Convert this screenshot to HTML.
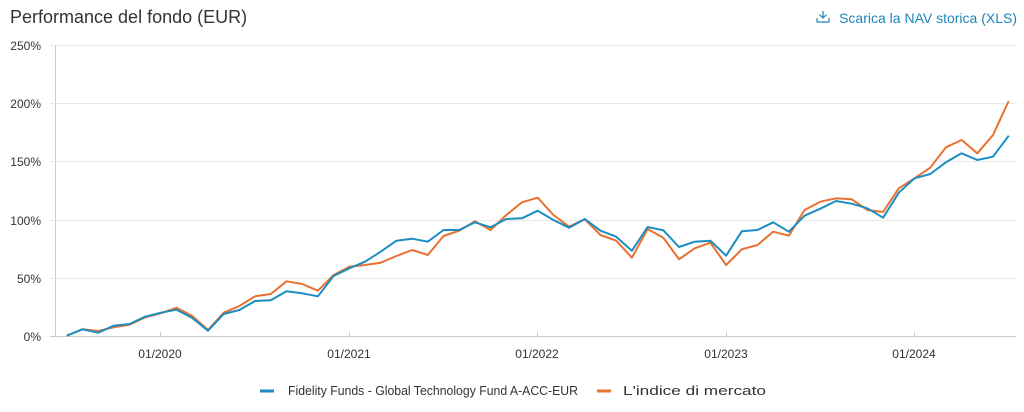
<!DOCTYPE html>
<html><head><meta charset="utf-8"><style>
html,body{margin:0;padding:0;background:#fff;width:1024px;height:412px;overflow:hidden;font-family:"Liberation Sans",sans-serif}
</style></head><body>
<svg width="1024" height="412" viewBox="0 0 1024 412" xmlns="http://www.w3.org/2000/svg" font-family="Liberation Sans, sans-serif">
<text x="10" y="23" font-size="18" fill="#333">Performance del fondo (EUR)</text>
<g stroke="#1f86b8" stroke-width="1.2" fill="none"><path d="M823 11v7M819.5 14.5l3.5 3.5 3.5-3.5M817 18v4h12v-4"/></g>
<text x="1017" y="23" font-size="14" fill="#1f86b8" text-anchor="end">Scarica la NAV storica (XLS)</text>
<g stroke="#e8e8e8" stroke-width="1">
<line x1="50" y1="45.5" x2="1016" y2="45.5"/>
<line x1="50" y1="103.5" x2="1016" y2="103.5"/>
<line x1="50" y1="161.5" x2="1016" y2="161.5"/>
<line x1="50" y1="220.5" x2="1016" y2="220.5"/>
<line x1="50" y1="278.5" x2="1016" y2="278.5"/>
</g>
<line x1="50" y1="336.5" x2="1016" y2="336.5" stroke="#ccc"/>
<line x1="55.5" y1="45" x2="55.5" y2="337" stroke="#ccc"/>
<g stroke="#ccc"><line x1="160.5" y1="337" x2="160.5" y2="332"/><line x1="349.5" y1="337" x2="349.5" y2="332"/><line x1="537.5" y1="337" x2="537.5" y2="332"/><line x1="726.5" y1="337" x2="726.5" y2="332"/><line x1="914.5" y1="337" x2="914.5" y2="332"/></g>
<g font-size="12" fill="#333" text-anchor="end">
<text x="41" y="50">250%</text><text x="41" y="108">200%</text><text x="41" y="166">150%</text><text x="41" y="225">100%</text><text x="41" y="283">50%</text><text x="41" y="341">0%</text>
</g>
<g font-size="12" fill="#333" text-anchor="middle">
<text x="160" y="358">01/2020</text><text x="349" y="358">01/2021</text><text x="537" y="358">01/2022</text><text x="726" y="358">01/2023</text><text x="914" y="358">01/2024</text>
</g>
<polyline fill="none" stroke="#e8712f" stroke-width="2" stroke-linejoin="round" points="66.7,335.7 82.4,329.3 98.1,331 113.8,327.3 129.5,324.7 145.2,317.3 160.9,313.3 176.6,307.7 192.3,316 208,330 223.7,312.7 239.4,306 255.1,296.3 270.8,294 286.5,281.3 302.2,284 317.9,290.7 333.6,275 349.3,266.7 365,265 380.7,262.7 396.4,256 412.1,250 427.8,255 443.5,236 459.2,230.7 474.9,221.3 490.6,230 506.3,215 522,202.3 537.7,197.7 553.4,215 569.1,226.7 584.8,219.3 600.5,235 616.2,240.7 631.9,257.7 647.6,229 663.3,237.7 679,259.3 694.7,248.3 710.4,242.7 726.1,265 741.8,249.3 757.5,245 773.2,231.7 788.9,235.7 804.6,210 820.3,201.7 836,198.3 851.7,199.3 867.4,210 883.1,212 898.8,188.3 914.5,178.3 930.2,167.7 945.9,147.3 961.6,140 977.3,153.3 993,135 1008.7,101"/>
<polyline fill="none" stroke="#1b8dc0" stroke-width="2" stroke-linejoin="round" points="66.7,335.7 82.4,329.3 98.1,332.7 113.8,325.7 129.5,324 145.2,316.7 160.9,312.7 176.6,309.7 192.3,318 208,330.7 223.7,314 239.4,310 255.1,301 270.8,300.3 286.5,291.3 302.2,293.3 317.9,296.3 333.6,276 349.3,268.3 365,261.7 380.7,251.7 396.4,240.7 412.1,238.7 427.8,241.7 443.5,230 459.2,230 474.9,222.3 490.6,227.3 506.3,219 522,218.3 537.7,210.7 553.4,220 569.1,227.7 584.8,219 600.5,230.7 616.2,236.7 631.9,250.7 647.6,227 663.3,230.3 679,247 694.7,241.7 710.4,240.7 726.1,255.7 741.8,231.3 757.5,230 773.2,222.3 788.9,231.7 804.6,215.7 820.3,208.7 836,201 851.7,203.7 867.4,208.3 883.1,217.7 898.8,192.7 914.5,178.3 930.2,174 945.9,162.3 961.6,153.3 977.3,160 993,156.7 1008.7,135.7"/>
<line x1="260" y1="391" x2="274" y2="391" stroke="#1b8dc0" stroke-width="3"/>
<text x="288" y="395" font-size="13" fill="#333" textLength="290" lengthAdjust="spacingAndGlyphs">Fidelity Funds - Global Technology Fund A-ACC-EUR</text>
<line x1="597" y1="391" x2="611" y2="391" stroke="#e8712f" stroke-width="3"/>
<text x="623" y="395" font-size="13" fill="#333" textLength="143" lengthAdjust="spacingAndGlyphs">L'indice di mercato</text>
</svg>
</body></html>
